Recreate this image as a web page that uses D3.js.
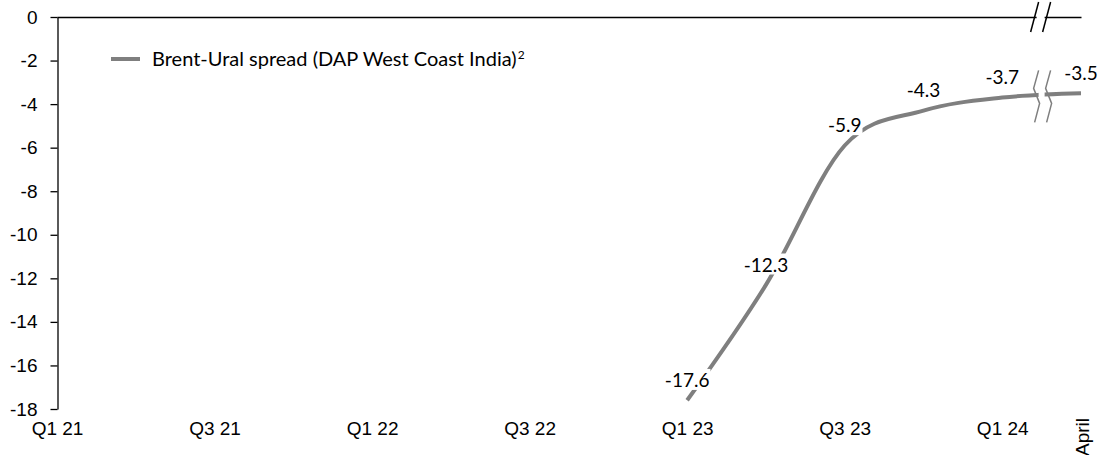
<!DOCTYPE html>
<html>
<head>
<meta charset="utf-8">
<script src="https://cdn.jsdelivr.net/npm/d3@7"></script>
<style>
  body { margin: 0; background: #fff; }
  svg { display: block; font-family: Lato, "Liberation Sans", sans-serif; }
</style>
</head>
<body>
<div id="chart-space"></div>
<script>
// categories along the bottom, one per quarter, then April after the break
const periods = ['Q1 21', 'Q2 21', 'Q3 21', 'Q4 21', 'Q1 22', 'Q2 22', 'Q3 22', 'Q4 22',
  'Q1 23', 'Q2 23', 'Q3 23', 'Q4 23', 'Q1 24', 'April']
const spread = [null, null, null, null, null, null, null, null,
  -17.6, -12.3, -5.9, -4.3, -3.7, -3.5]
const periodLabels = ['Q1 21', 'Q3 21', 'Q1 22', 'Q3 22', 'Q1 23', 'Q3 23', 'Q1 24', 'April']
const yTicks = [0, -2, -4, -6, -8, -10, -12, -14, -16, -18]
const seriesName = 'Brent-Ural spread (DAP West Coast India)'

const w = 1101
const h = 455
const grey = '#7f7f7f'

const stats = periods.map((p, i) => ({ period: p, value: spread[i] }))
  .filter(d => d.value !== null)

const xScale = d3.scalePoint()
  .domain(periods)
  .range([57, 1081])

const yScale = d3.scaleLinear()
  .domain([-18, 0])
  .range([409, 17])

const svg = d3.select('#chart-space')
  .append('svg')
  .attr('width', w)
  .attr('height', h)

// y axis on the left, plain hyphen for negatives
const yAxis = svg.append('g')
  .attr('transform', 'translate(57.5,0)')
  .call(d3.axisLeft(yScale).tickValues(yTicks).tickFormat(d => String(d))
    .tickSize(7).tickSizeOuter(0).tickPadding(13))
yAxis.selectAll('path, line').attr('stroke', '#000').attr('stroke-width', 1.3)
yAxis.selectAll('text').attr('font-size', 19).attr('fill', '#000')

// horizontal axis line sits at zero
const zeroAxis = svg.append('g')
  .attr('transform', `translate(0,${yScale(0)})`)
  .call(d3.axisBottom(xScale).tickValues([]).tickSizeOuter(0))
zeroAxis.select('path').attr('stroke', '#000').attr('stroke-width', 1.3)

// category labels at the bottom of the plot
const xLabels = svg.append('g')
  .attr('transform', 'translate(0,421)')
  .call(d3.axisBottom(xScale).tickValues(periodLabels).tickSize(0).tickPadding(0))
xLabels.select('.domain').remove()
xLabels.selectAll('text').attr('font-size', 19).attr('fill', '#000')
xLabels.selectAll('.tick text')
  .filter(d => d === 'April')
  .attr('y', 0)
  .attr('dy', '0.35em')
  .attr('text-anchor', 'end')
  .attr('transform', 'translate(1,-3) rotate(-90)')

const line = d3.line()
  .x(d => xScale(d.period))
  .y(d => yScale(d.value))
  .curve(d3.curveCardinal.tension(0))

svg.append('path')
  .datum(stats)
  .attr('d', line)
  .attr('fill', 'none')
  .attr('stroke', grey)
  .attr('stroke-width', 4)

// break marks between Q1 24 and April
const bx = (xScale('Q1 24') + xScale('April')) / 2
const yb = yScale(-3.6)

svg.append('rect')
  .attr('x', bx - 3).attr('y', yb - 8)
  .attr('width', 6).attr('height', 16)
  .attr('fill', '#fff')
;[-5, 7].forEach(off => {
  const zx = bx + off
  svg.append('path')
    .attr('d', `M${zx + 2},${yb - 25} L${zx - 3},${yb - 7} L${zx + 3},${yb + 8} L${zx - 2},${yb + 27}`)
    .attr('fill', 'none')
    .attr('stroke', grey)
    .attr('stroke-width', 1.5)
})

const yz = yScale(0)
svg.append('rect')
  .attr('x', bx - 5).attr('y', yz - 2)
  .attr('width', 8).attr('height', 4)
  .attr('fill', '#fff')
;[-7, 5].forEach(off => {
  const zx = bx + off
  svg.append('line')
    .attr('x1', zx - 4).attr('y1', yz + 15)
    .attr('x2', zx + 4).attr('y2', yz - 15)
    .attr('stroke', '#000')
    .attr('stroke-width', 1.5)
})

// data labels with white boxes behind them
const labels = svg.selectAll('.dataLabel')
  .data(stats)
  .enter()
  .append('g')
  .attr('class', 'dataLabel')
  .attr('transform', d => `translate(${xScale(d.period)},${yScale(d.value) - 20})`)

labels.append('rect')
labels.append('text')
  .attr('text-anchor', 'middle')
  .attr('dy', '0.35em')
  .attr('font-size', 19)
  .attr('fill', '#000')
  .text(d => d.value.toFixed(1))

labels.each(function () {
  const box = d3.select(this).select('text').node().getBBox()
  d3.select(this).select('rect')
    .attr('x', box.x - 1).attr('y', box.y + 1)
    .attr('width', box.width + 2).attr('height', box.height - 2)
    .attr('fill', '#fff')
})

// legend
const legend = svg.append('g').attr('transform', 'translate(111,59)')
legend.append('line')
  .attr('x1', 0).attr('x2', 29)
  .attr('stroke', grey)
  .attr('stroke-width', 4)
const legendText = legend.append('text')
  .attr('x', 41)
  .attr('dy', '0.35em')
  .attr('font-size', 20)
  .attr('fill', '#000')
  .text(seriesName)
legendText.append('tspan')
  .attr('font-size', 12)
  .attr('dx', 1)
  .attr('dy', '-0.6em')
  .text('2')
</script>
</body>
</html>
